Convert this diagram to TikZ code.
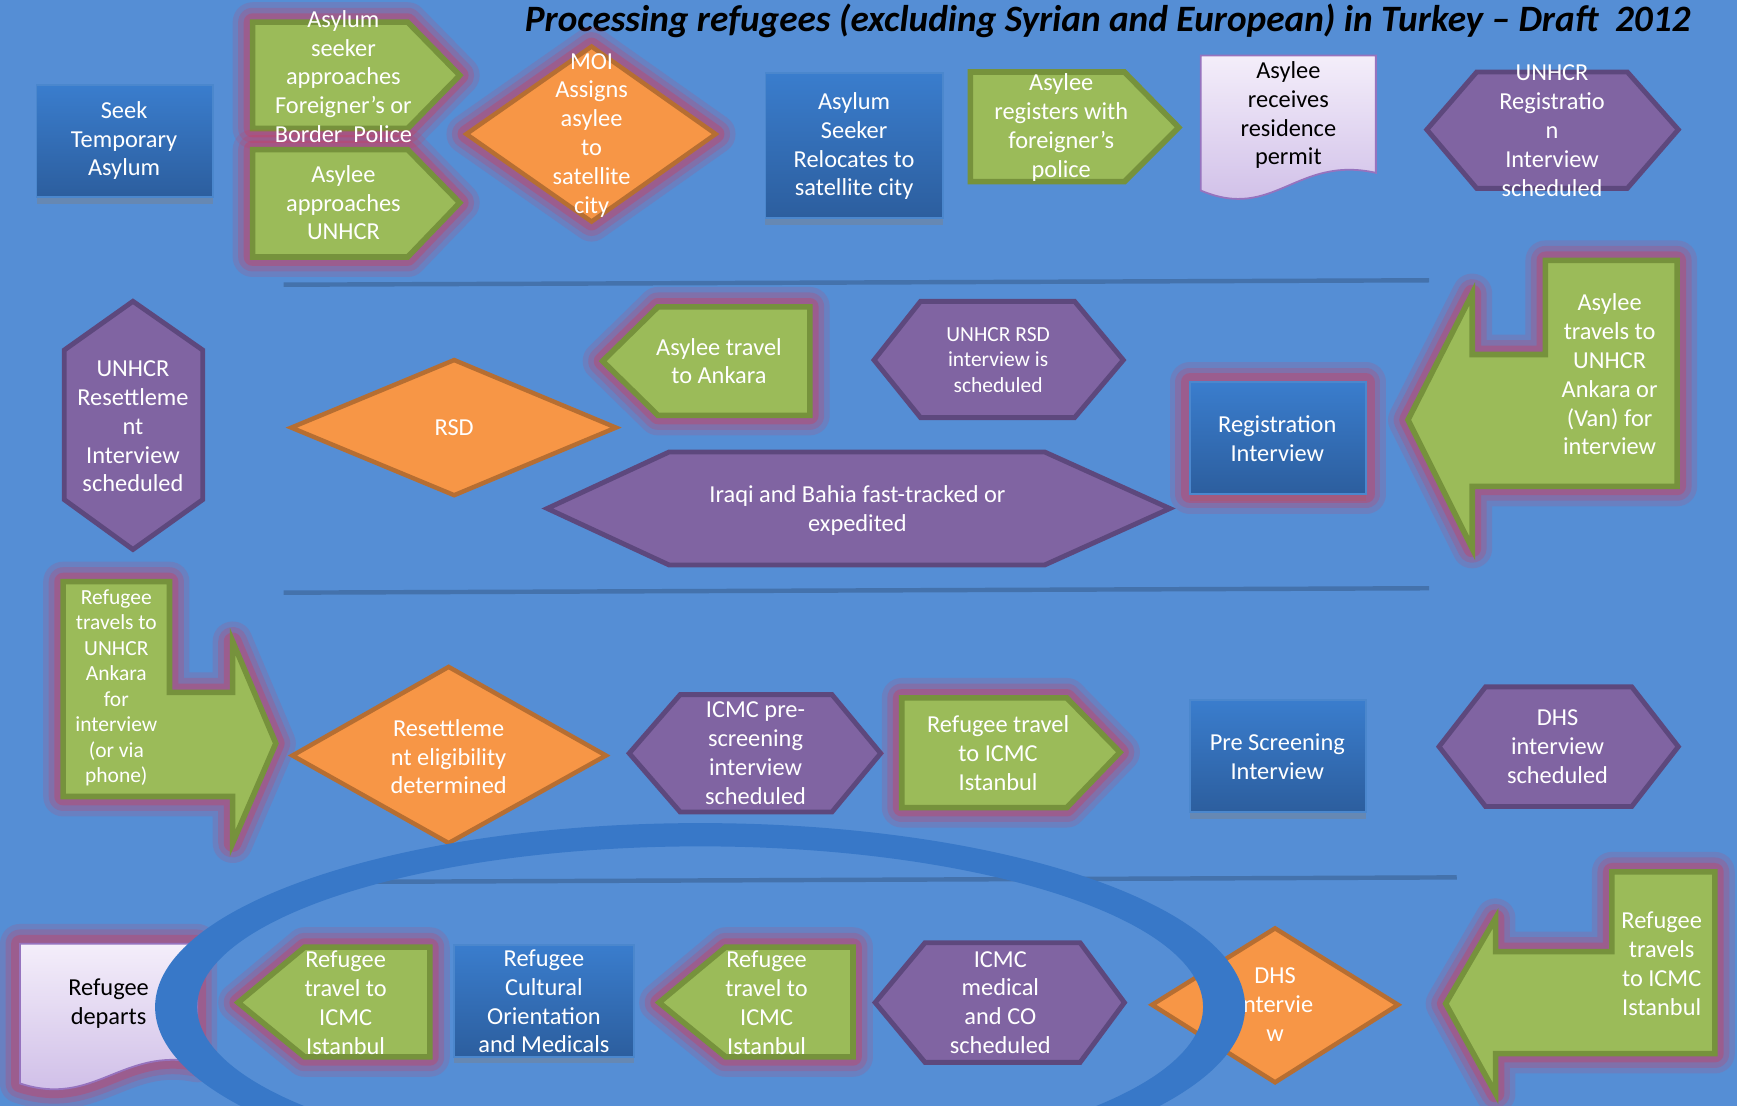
\documentclass[tikz,border=0pt]{standalone}
\usepackage{fontspec}
\setmainfont{Carlito}
\usepackage{xcolor}
\usetikzlibrary{shadows}

\definecolor{bgblue}{RGB}{85,142,213}
\definecolor{grfill}{RGB}{155,187,89}
\definecolor{grline}{RGB}{118,146,60}
\definecolor{pufill}{RGB}{128,100,162}
\definecolor{puline}{RGB}{93,72,125}
\definecolor{orfill}{RGB}{247,150,70}
\definecolor{orline}{RGB}{182,110,50}
\definecolor{bltop}{RGB}{58,125,205}
\definecolor{blbot}{RGB}{44,94,158}
\definecolor{blline}{RGB}{75,135,205}
\definecolor{dctop}{RGB}{244,238,250}
\definecolor{dcbot}{RGB}{204,186,230}
\definecolor{dcline}{RGB}{150,115,190}
\definecolor{glowc}{RGB}{220,50,80}
\definecolor{sepc}{RGB}{68,114,172}
\definecolor{ringc}{RGB}{56,120,200}

\begin{document}
\begin{tikzpicture}[x=0.5pt, y=-0.5pt,
	greenbox/.style={fill=grfill, draw=grline, line width=2.5pt},
	purplebox/.style={fill=pufill, draw=puline, line width=2.2pt},
	orangebox/.style={fill=orfill, draw=orline, line width=2pt},
	bluebox/.style={top color=bltop, bottom color=blbot, draw=blline, line width=0.8pt, drop shadow={shadow xshift=0pt, shadow yshift=-3pt, opacity=0.4}},
	docbox/.style={top color=dctop, bottom color=dcbot, draw=dcline, line width=0.8pt},
	glow/.style={preaction={draw=glowc, line width=18pt, opacity=0.15, line join=round},
		preaction={draw=glowc, line width=13pt, opacity=0.2, line join=round},
		preaction={draw=glowc, line width=8pt, opacity=0.3, line join=round}},
	sepline/.style={draw=sepc, line width=2pt},
	boxtext/.style={text=white, align=center, inner sep=0pt, font=\fontsize{11}{13}\selectfont},
	smalltext/.style={font=\fontsize{9.7}{11.5}\selectfont}]
	
		\newcommand{\PicW}{1568}
		\newcommand{\PicH}{998}
		\useasboundingbox (0,0) rectangle (\PicW,\PicH);
		\fill[bgblue] (0,0) rectangle (\PicW,\PicH);
		
		\node (title) at (1000,19) {\fontsize{16.8}{19}\selectfont\bfseries\itshape Processing refugees (excluding Syrian and European) in Turkey – Draft~ 2012};
		
		% separators
		\draw[sepline] (256,257) -- (1290,253);
		\draw[sepline] (256,535) -- (1290,531);
		\draw[sepline] (330,796) -- (1315,792);
		
		% first row
		\filldraw[bluebox] (33,77) rectangle (192,178);
		\node[boxtext] (seek) at (112,127) {Seek\\Temporary\\Asylum};
		
		\filldraw[greenbox, glow] (228,20) -- (368,20) -- (415,68) -- (368,116) -- (228,116) -- cycle;
		\filldraw[greenbox, glow] (228,135) -- (368,135) -- (415,183) -- (368,232) -- (228,232) -- cycle;
		\node[boxtext] (foreign) at (310,69) {Asylum\\seeker\\approaches\\Foreigner’s or\\Border~ Police};
		\node[boxtext] (unhcrA) at (310,183) {Asylee\\approaches\\UNHCR};
		
		\filldraw[orangebox, glow] (534,42) -- (646,121) -- (534,200) -- (421,121) -- cycle;
		\node[boxtext] (moi) at (534,122) {MOI\\Assigns\\asylee\\to\\satellite\\city};
		
		\filldraw[bluebox] (691,66) rectangle (851,197);
		\node[boxtext] (relocate) at (771,132) {Asylum\\Seeker\\Relocates to\\satellite city};
		
		\filldraw[greenbox] (876,65) -- (1015,65) -- (1064,115) -- (1015,164) -- (876,164) -- cycle;
		\node[boxtext] (registers) at (958,115) {Asylee\\registers with\\foreigner’s\\police};
		
		\filldraw[docbox] (1084,50) -- (1242,50) -- (1242,156) .. controls (1170,140) and (1150,200) .. (1084,172) -- cycle;
		\node[boxtext, text=black] (permit) at (1163,104) {Asylee\\receives\\residence\\permit};
		
		\filldraw[purplebox] (1333,65) -- (1469,65) -- (1515,117) -- (1469,170) -- (1333,170) -- (1288,117) -- cycle;
		\node[boxtext] (regsched) at (1401,118) {UNHCR\\Registratio\\n\\Interview\\scheduled};
		
		% second row
		\filldraw[purplebox] (120,272) -- (183,316) -- (183,451) -- (120,496) -- (58,451) -- (58,316) -- cycle;
		\node[boxtext] (resetsched) at (120,385) {UNHCR\\Resettleme\\nt\\Interview\\scheduled};
		
		\filldraw[orangebox] (410,325) -- (556,386) -- (410,447) -- (263,386) -- cycle;
		\node[boxtext] (rsd) at (410,386) {RSD};
		
		\filldraw[greenbox, glow] (731,277) -- (594,277) -- (544,326) -- (594,375) -- (731,375) -- cycle;
		\node[boxtext] (ankara) at (649,326) {Asylee travel\\to Ankara};
		
		\filldraw[purplebox] (831,272) -- (970,272) -- (1014,325) -- (970,377) -- (831,377) -- (789,325) -- cycle;
		\node[boxtext, smalltext] (rsdsched) at (901,325) {UNHCR RSD\\interview is\\scheduled};
		
		\filldraw[purplebox] (604,408) -- (943,408) -- (1056,459) -- (943,510) -- (604,510) -- (494,459) -- cycle;
		\node[boxtext] (iraqi) at (774,461) {Iraqi and Bahia fast-tracked or\\expedited};
		
		\filldraw[bluebox, glow] (1074,345) rectangle (1233,446);
		\node[boxtext] (reginterview) at (1153,396) {Registration\\Interview};
		
		\filldraw[greenbox, glow] (1514,235) -- (1395,235) -- (1395,320) -- (1329,320) -- (1329,265) -- (1271,379) -- (1329,495) -- (1329,439) -- (1514,439) -- cycle;
		\node[boxtext] (travelsA) at (1453,338) {Asylee\\travels to\\UNHCR\\Ankara or\\(Van) for\\interview};
		
		% third row
		\filldraw[greenbox, glow] (57,525) -- (153,525) -- (153,625) -- (210,625) -- (210,579) -- (249,671) -- (210,761) -- (210,719) -- (57,719) -- cycle;
		\node[boxtext, smalltext] (travelsB) at (105,621) {Refugee\\travels to\\UNHCR\\Ankara\\for\\interview\\(or via\\phone)};
		
		\filldraw[orangebox] (405,602) -- (547,682) -- (405,761) -- (264,682) -- cycle;
		\node[boxtext] (eligible) at (405,683) {Resettleme\\nt eligibility\\determined};
		
		\filldraw[purplebox] (614,627) -- (751,627) -- (795,680) -- (751,733) -- (614,733) -- (568,680) -- cycle;
		\node[boxtext] (prescreen) at (682,680) {ICMC pre-\\screening\\interview\\scheduled};
		
		\filldraw[greenbox, glow] (814,630) -- (963,630) -- (1011,679) -- (963,729) -- (814,729) -- cycle;
		\node[boxtext] (icmcA) at (901,680) {Refugee travel\\to ICMC\\Istanbul};
		
		\filldraw[bluebox] (1074,632) rectangle (1233,733);
		\node[boxtext] (prescrint) at (1153,683) {Pre Screening\\Interview};
		
		\filldraw[purplebox] (1341,620) -- (1473,620) -- (1515,674) -- (1473,728) -- (1341,728) -- (1299,674) -- cycle;
		\node[boxtext] (dhssched) at (1406,674) {DHS\\interview\\scheduled};
		
		% fourth row
		\filldraw[docbox, glow] (18,852) -- (178,852) -- (178,959) .. controls (110,945) and (85,1000) .. (18,978) -- cycle;
		\node[boxtext, text=black] (departs) at (98,906) {Refugee\\departs};
		
		\filldraw[greenbox, glow] (388,855) -- (275,855) -- (215,905) -- (275,954) -- (388,954) -- cycle;
		\node[boxtext] (icmcC) at (312,905) {Refugee\\travel to\\ICMC\\Istanbul};
		
		\filldraw[bluebox] (410,853) rectangle (572,954);
		\node[boxtext] (cultural) at (491,904) {Refugee\\Cultural\\Orientation\\and Medicals};
		
		\filldraw[greenbox, glow] (770,855) -- (655,855) -- (595,905) -- (655,954) -- (770,954) -- cycle;
		\node[boxtext] (icmcB) at (692,905) {Refugee\\travel to\\ICMC\\Istanbul};
		
		\filldraw[purplebox] (835,851) -- (975,851) -- (1015,905) -- (975,959) -- (835,959) -- (790,905) -- cycle;
		\node[boxtext] (medical) at (903,905) {ICMC\\medical\\and CO\\scheduled};
		
		\filldraw[orangebox] (1151,838) -- (1262,907) -- (1151,977) -- (1040,907) -- cycle;
		\node[boxtext] (dhs) at (1151,907) {DHS\\Intervie\\w};
		
		\filldraw[greenbox, glow] (1548,787) -- (1455,787) -- (1455,859) -- (1350,859) -- (1350,829) -- (1305,906) -- (1350,987) -- (1350,951) -- (1548,951) -- cycle;
		\node[boxtext] (travelsC) at (1500,870) {Refugee\\travels\\to ICMC\\Istanbul};
		
		% ring over the last row
		\fill[ringc, even odd rule] (632,909) ellipse [x radius=492, y radius=166] (632,909) ellipse [x radius=454, y radius=145];
		
	\end{tikzpicture}
\end{document}
